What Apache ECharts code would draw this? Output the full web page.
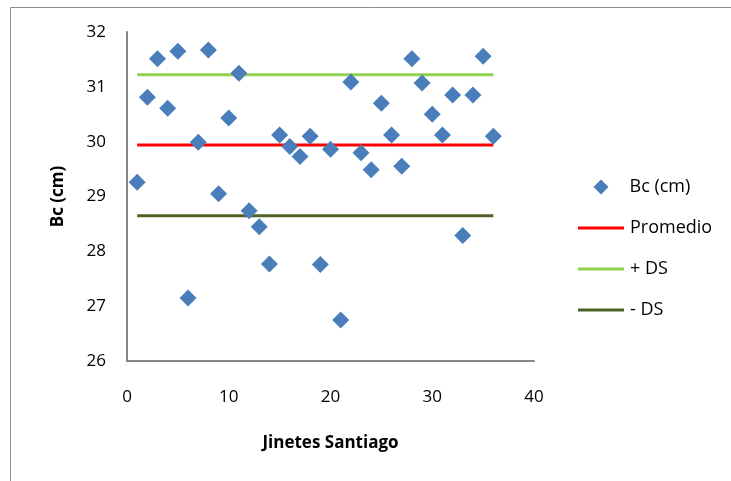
<!DOCTYPE html>
<html>
<head>
<meta charset="utf-8">
<script src="https://cdn.jsdelivr.net/npm/echarts@6/dist/echarts.min.js"></script>
<style>
html,body{margin:0;padding:0;background:#fff;}
#chart{width:731px;height:481px;}
</style>
</head>
<body>
<div id="chart"></div>
<script>
// Data
var jinetes = [1,2,3,4,5,6,7,8,9,10,11,12,13,14,15,16,17,18,19,20,21,22,23,24,25,26,27,28,29,30,31,32,33,34,35,36];
var bcValues = [29.26,30.81,31.51,30.61,31.65,27.15,29.99,31.67,29.05,30.43,31.25,28.74,28.45,27.77,30.12,29.91,29.73,30.10,27.76,29.86,26.75,31.09,29.80,29.49,30.70,30.12,29.55,31.51,31.07,30.50,30.12,30.85,28.29,30.85,31.56,30.10];
var promedio = 29.94;
var masDS = 31.22;
var menosDS = 28.65;
var xTicks = [0,10,20,30,40];
var yTicks = [26,27,28,29,30,31,32];
var seriesNames = ['Bc (cm)','Promedio','+ DS','- DS'];

var FONT = 'Open Sans';
var xFirst = jinetes[0], xLast = jinetes[jinetes.length-1];
function hline(v){ return [[xFirst, v],[xLast, v]]; }

var chart = echarts.init(document.getElementById('chart'), null, {renderer:'canvas'});
chart.setOption({
  animation:false,
  backgroundColor:'#ffffff',
  textStyle:{fontFamily:FONT},
  graphic:[{
    type:'rect', silent:true, z:-10,
    shape:{x:10.5, y:7.5, width:760, height:500},
    style:{fill:'none', stroke:'#8c8c8c', lineWidth:1}
  }],
  grid:{left:127, right:197, top:32, bottom:120, containLabel:false},
  xAxis:{
    type:'value', min:xTicks[0], max:xTicks[xTicks.length-1], interval:10,
    name:'Jinetes Santiago', nameLocation:'middle', nameGap:74,
    nameTextStyle:{fontFamily:FONT, fontWeight:'bold', fontSize:17, color:'#000'},
    axisLine:{show:true, lineStyle:{color:'#868686', width:2}},
    axisTick:{show:false},
    splitLine:{show:false},
    axisLabel:{color:'#000', fontSize:17, fontFamily:FONT, margin:28}
  },
  yAxis:{
    type:'value', min:yTicks[0], max:yTicks[yTicks.length-1], interval:1,
    name:'Bc (cm)', nameLocation:'middle', nameGap:60,
    nameTextStyle:{fontFamily:FONT, fontWeight:'bold', fontSize:17, color:'#000'},
    axisLine:{show:true, lineStyle:{color:'#868686', width:2}},
    axisTick:{show:false},
    splitLine:{show:false},
    axisLabel:{color:'#000', fontSize:17, fontFamily:FONT, margin:21}
  },
  legend:[
    {
      orient:'vertical', left:588.5, top:172,
      itemWidth:15, itemHeight:15,
      textStyle:{fontFamily:FONT, fontSize:18, color:'#000', lineHeight:20, padding:[0,0,0,16]},
      data:[{name:seriesNames[0], icon:'diamond'}]
    },
    {
      orient:'vertical', left:573, top:213,
      itemWidth:46, itemHeight:3, itemGap:21,
      textStyle:{fontFamily:FONT, fontSize:18, color:'#000', lineHeight:20, padding:[0,0,0,1]},
      data:[
        {name:seriesNames[1], icon:'rect'},
        {name:seriesNames[2], icon:'rect'},
        {name:seriesNames[3], icon:'rect'}
      ]
    }
  ],
  series:[
    {
      name:seriesNames[1], type:'line', symbol:'none', z:2,
      data:hline(promedio),
      lineStyle:{color:'#ff0000', width:3}, itemStyle:{color:'#ff0000'}
    },
    {
      name:seriesNames[2], type:'line', symbol:'none', z:2,
      data:hline(masDS),
      lineStyle:{color:'#92d050', width:3}, itemStyle:{color:'#92d050'}
    },
    {
      name:seriesNames[3], type:'line', symbol:'none', z:2,
      data:hline(menosDS),
      lineStyle:{color:'#4f6228', width:3}, itemStyle:{color:'#4f6228'}
    },
    {
      name:seriesNames[0], type:'scatter', symbol:'diamond', symbolSize:17, z:5,
      data:jinetes.map(function(x,i){return [x, bcValues[i]];}),
      itemStyle:{color:'#4a7ebb', opacity:1}
    }
  ]
});
</script>
</body>
</html>
